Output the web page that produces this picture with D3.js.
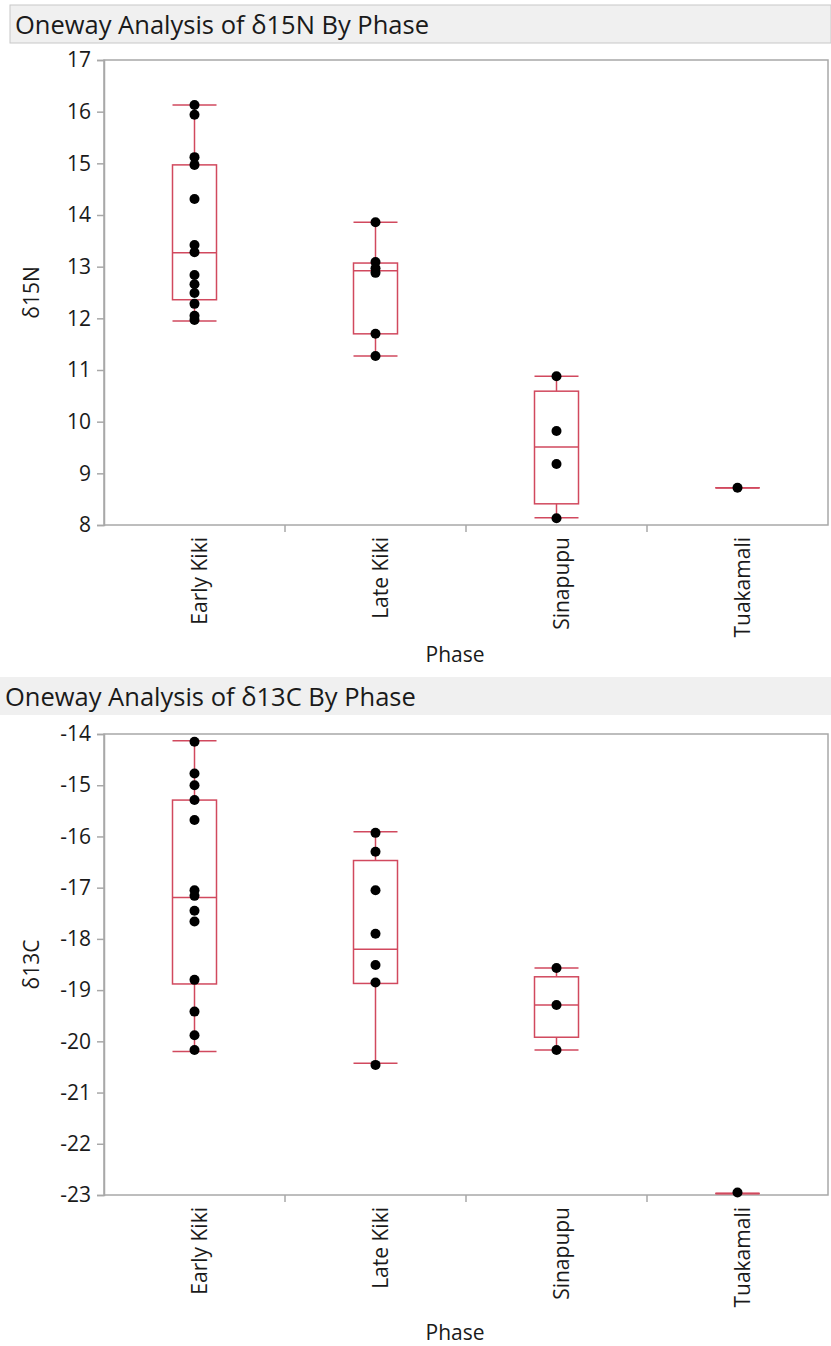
<!DOCTYPE html>
<html>
<head>
<meta charset="utf-8">
<script src="https://cdn.jsdelivr.net/npm/d3@7"></script>
<style>
  body { margin: 0; background: #fff; }
  svg { font-family: "Open Sans", "Noto Sans", sans-serif; }
</style>
</head>
<body>
<div id="chart"></div>
<script>
const width = 831;
const height = 1346;

const phases = ["Early Kiki", "Late Kiki", "Sinapupu", "Tuakamali"];

// δ15N values per phase
const n15EarlyKiki = [16.13, 15.94, 15.12, 14.97, 14.31, 13.42, 13.28, 12.84, 12.66, 12.49, 12.28, 12.05, 11.97];
const n15LateKiki = [13.86, 13.09, 12.97, 12.88, 11.70, 11.27];
const n15Sinapupu = [10.88, 9.82, 9.18, 8.13];
const n15Tuakamali = [8.72];
// box stats [low whisker, q1, median, q3, high whisker]
const n15Boxes = [
  [11.95, 12.36, 13.27, 14.97, 16.13],
  [11.27, 11.70, 12.92, 13.07, 13.86],
  [8.14, 8.41, 9.51, 10.59, 10.88],
  [8.72, 8.72, 8.72, 8.72, 8.72]
];
const n15Ticks = [8, 9, 10, 11, 12, 13, 14, 15, 16, 17];

// δ13C values per phase
const c13EarlyKiki = [-14.15, -14.77, -15.0, -15.29, -15.68, -17.05, -17.16, -17.45, -17.66, -18.80, -19.42, -19.88, -20.17];
const c13LateKiki = [-15.93, -16.30, -17.05, -17.90, -18.51, -18.85, -20.46];
const c13Sinapupu = [-18.57, -19.29, -20.17];
const c13Tuakamali = [-22.95];
const c13Boxes = [
  [-20.20, -18.88, -17.19, -15.29, -14.13],
  [-20.43, -18.87, -18.20, -16.47, -15.91],
  [-20.17, -19.92, -19.29, -18.74, -18.57],
  [-22.97, -22.97, -22.97, -22.97, -22.97]
];
const c13Ticks = [-23, -22, -21, -20, -19, -18, -17, -16, -15, -14];

const red = "#d1495e";
const frameColor = "#a8a8a8";
const textColor = "#1a1a1a";
const labelSize = 21;

const svg = d3.select("#chart").append("svg")
  .attr("width", width).attr("height", height);

function drawPanel(p) {
  const g = svg.append("g");

  // title bar
  g.append("rect")
    .attr("x", p.titleX).attr("y", p.titleY)
    .attr("width", width - p.titleX).attr("height", 38)
    .attr("fill", "#f0f0f0")
    .attr("stroke", p.titleBorder ? "#c8c8c8" : "none");
  g.append("text")
    .attr("x", p.titleX + 5).attr("y", p.titleY + 29)
    .attr("font-size", 25.5).attr("fill", textColor)
    .text(p.title);

  const x = d3.scaleBand().domain(phases).range([104, 828]);
  const y = d3.scaleLinear().domain(p.domain).range([p.bottom, p.top]);

  // frame
  g.append("rect")
    .attr("x", 104).attr("y", p.top)
    .attr("width", 724).attr("height", p.bottom - p.top)
    .attr("fill", "none").attr("stroke", frameColor).attr("stroke-width", 1.5);

  // y axis
  const yAxis = g.append("g")
    .attr("transform", "translate(104,0)")
    .call(d3.axisLeft(y).tickValues(p.ticks).tickSize(7).tickPadding(6).tickFormat(d3.format("d")));
  yAxis.select(".domain").attr("stroke", frameColor).attr("stroke-width", 1.5);
  yAxis.selectAll(".tick line").attr("stroke", frameColor).attr("stroke-width", 1.5);
  yAxis.selectAll(".tick text")
    .attr("font-size", labelSize).attr("fill", textColor)
    .attr("font-family", "Open Sans, sans-serif")
    .text(d => d < 0 ? "-" + Math.abs(d) : d);

  // category boundary ticks
  g.selectAll(".sep")
    .data(phases.slice(1))
    .join("line")
      .attr("x1", d => x(d)).attr("x2", d => x(d))
      .attr("y1", p.bottom).attr("y2", p.bottom + 7)
      .attr("stroke", frameColor).attr("stroke-width", 1.5);

  // category labels
  g.selectAll(".cat")
    .data(phases)
    .join("text")
      .attr("transform", d => `translate(${x(d) + x.bandwidth() / 2 + 12},${p.bottom + p.catGap}) rotate(-90)`)
      .attr("text-anchor", "end")
      .attr("font-size", labelSize).attr("fill", textColor)
      .text(d => d);

  g.append("text")
    .attr("x", 455).attr("y", p.bottom + p.phaseGap)
    .attr("text-anchor", "middle")
    .attr("font-size", labelSize).attr("fill", textColor)
    .text("Phase");

  g.append("text")
    .attr("transform", `translate(39,${(p.top + p.bottom) / 2}) rotate(-90)`)
    .attr("text-anchor", "middle")
    .attr("font-size", labelSize).attr("fill", textColor)
    .text(p.yLabel);

  // box plots
  const boxW = 44;
  const boxes = g.selectAll(".box")
    .data(phases.map((ph, i) => ({ phase: ph, s: p.boxes[i] })))
    .join("g")
      .attr("transform", d => `translate(${x(d.phase) + x.bandwidth() / 2},0)`);

  boxes.append("line")
    .attr("x1", 0).attr("x2", 0)
    .attr("y1", d => y(d.s[0])).attr("y2", d => y(d.s[4]))
    .attr("stroke", red).attr("stroke-width", 1.5);
  boxes.append("rect")
    .attr("x", -boxW / 2).attr("width", boxW)
    .attr("y", d => y(d.s[3])).attr("height", d => y(d.s[1]) - y(d.s[3]))
    .attr("fill", "#fff").attr("stroke", red).attr("stroke-width", 1.5);
  boxes.selectAll(".h")
    .data(d => [d.s[0], d.s[2], d.s[4]])
    .join("line")
      .attr("x1", -boxW / 2).attr("x2", boxW / 2)
      .attr("y1", d => y(d)).attr("y2", d => y(d))
      .attr("stroke", red).attr("stroke-width", 1.5);

  // points
  g.selectAll(".pt")
    .data(p.values.flatMap((vals, i) => vals.map(v => ({ phase: phases[i], v }))))
    .join("circle")
      .attr("cx", d => x(d.phase) + x.bandwidth() / 2)
      .attr("cy", d => y(d.v))
      .attr("r", 5)
      .attr("fill", "#000");
}

drawPanel({
  title: "Oneway Analysis of δ15N By Phase",
  titleX: 10, titleY: 5, titleBorder: true,
  yLabel: "δ15N",
  domain: [8, 17], top: 60, bottom: 525,
  catGap: 12, phaseGap: 137,
  ticks: n15Ticks, boxes: n15Boxes,
  values: [n15EarlyKiki, n15LateKiki, n15Sinapupu, n15Tuakamali]
});

drawPanel({
  title: "Oneway Analysis of δ13C By Phase",
  titleX: 0, titleY: 677, titleBorder: false,
  yLabel: "δ13C",
  domain: [-23, -14], top: 734, bottom: 1195,
  catGap: 12, phaseGap: 145,
  ticks: c13Ticks, boxes: c13Boxes,
  values: [c13EarlyKiki, c13LateKiki, c13Sinapupu, c13Tuakamali]
});
</script>
</body>
</html>
